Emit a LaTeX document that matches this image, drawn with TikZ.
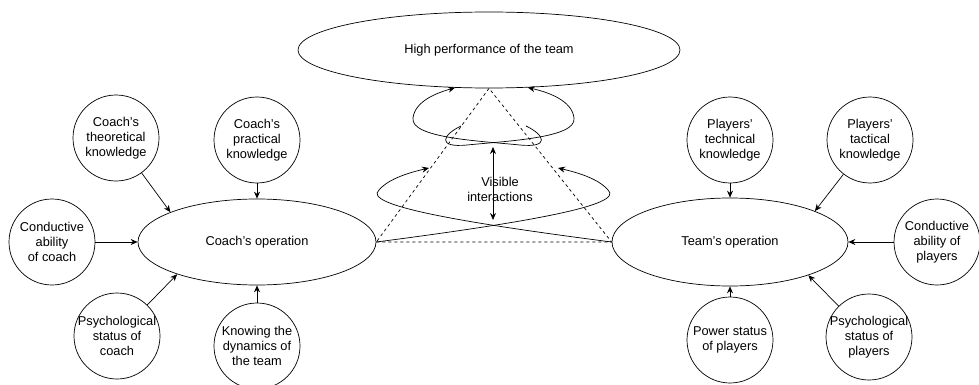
\documentclass[tikz,border=0pt]{standalone}
\usepackage{fontspec}
\setmainfont{Liberation Sans}
\usetikzlibrary{shapes.geometric,arrows.meta}
\begin{document}
\begin{tikzpicture}[x=1pt,y=-1pt,line width=0.7pt,
    factor/.style={circle,draw,minimum size=86pt,inner sep=-8pt,align=center,font=\fontsize{12.8}{15}\selectfont},
    oval/.style={ellipse,draw,inner sep=0pt,font=\fontsize{12.8}{15}\selectfont},
    arr/.style={-{Stealth[length=7pt,width=6pt]}},
    hidden/.style={dash pattern=on 3pt off 3pt}]
    \useasboundingbox (0,0) rectangle (979,385);
    % the three ovals
    \node[oval,minimum width=382pt,minimum height=76pt] (top) at (489,50) {High performance of the team};
    \node[oval,minimum width=238pt,minimum height=86pt] (coach) at (257,242) {Coach's operation};
    \node[oval,minimum width=236pt,minimum height=88pt] (team) at (730,242) {Team's operation};
    % coach side
    \node[factor] (theo) at (116,138) {Coach's\\theoretical\\knowledge};
    \node[factor] (prac) at (257,140) {Coach's\\practical\\knowledge};
    \node[factor] (condc) at (52,242) {Conductive\\ability\\of coach};
    \node[factor] (psyc) at (117,336) {Psychological\\status of\\coach};
    \node[factor] (know) at (257,346) {Knowing the\\dynamics of\\the team};
    % team side
    \node[factor] (tech) at (730,140) {Players'\\technical\\knowledge};
    \node[factor] (tact) at (870,140) {Players'\\tactical\\knowledge};
    \node[factor] (condp) at (937,242) {Conductive\\ability of\\players};
    \node[factor] (psyp) at (869,337) {Psychological\\status of\\players};
    \node[factor] (power) at (730,340) {Power status\\of players};
    \draw[arr] (theo) -- (coach.161);
    \draw[arr] (prac) -- (coach);
    \draw[arr] (condc) -- (coach);
    \draw[arr] (psyc) -- (coach.202);
    \draw[arr] (know) -- (coach);
    \draw[arr] (tech) -- (team);
    \draw[arr] (tact) -- (team.20);
    \draw[arr] (condp) -- (team);
    \draw[arr] (psyp) -- (team.337);
    \draw[arr] (power) -- (team);
    % dashed triangle
    \draw[hidden] (coach.east) -- (team.west) -- (top.south) -- cycle;
    % interaction loops
    \coordinate (lowL) at (429,168);
    \coordinate (lowR) at (558,168);
    \coordinate (upL) at (461,126);
    \coordinate (upR) at (526,126);
    \draw[arr] (coach.east) .. controls (530,222) and (625,205) .. (608,190)
        .. controls (598,178) and (575,172) .. (lowR);
    \draw[arr] (team.west) .. controls (457,222) and (362,205) .. (379,190)
        .. controls (389,178) and (412,172) .. (lowL);
    \draw[arr] (upR) .. controls (545,135) and (550,148) .. (520,145)
        .. controls (480,141) and (410,138) .. (413,118)
        .. controls (415,100) and (440,92) .. (top.228);
    \draw[arr] (upL) .. controls (442,135) and (437,148) .. (467,145)
        .. controls (507,141) and (577,138) .. (574,118)
        .. controls (572,100) and (547,92) .. (top.316);
    % visible interactions
    \coordinate (va) at (493,147);
    \coordinate (vb) at (493,220);
    \draw[{Stealth[length=7pt,width=6pt]}-{Stealth[length=7pt,width=6pt]}] (va) -- (vb);
    \node[align=center,font=\fontsize{12.8}{15}\selectfont] (vis) at (500,189) {Visible\\interactions};
\end{tikzpicture}
\end{document}
